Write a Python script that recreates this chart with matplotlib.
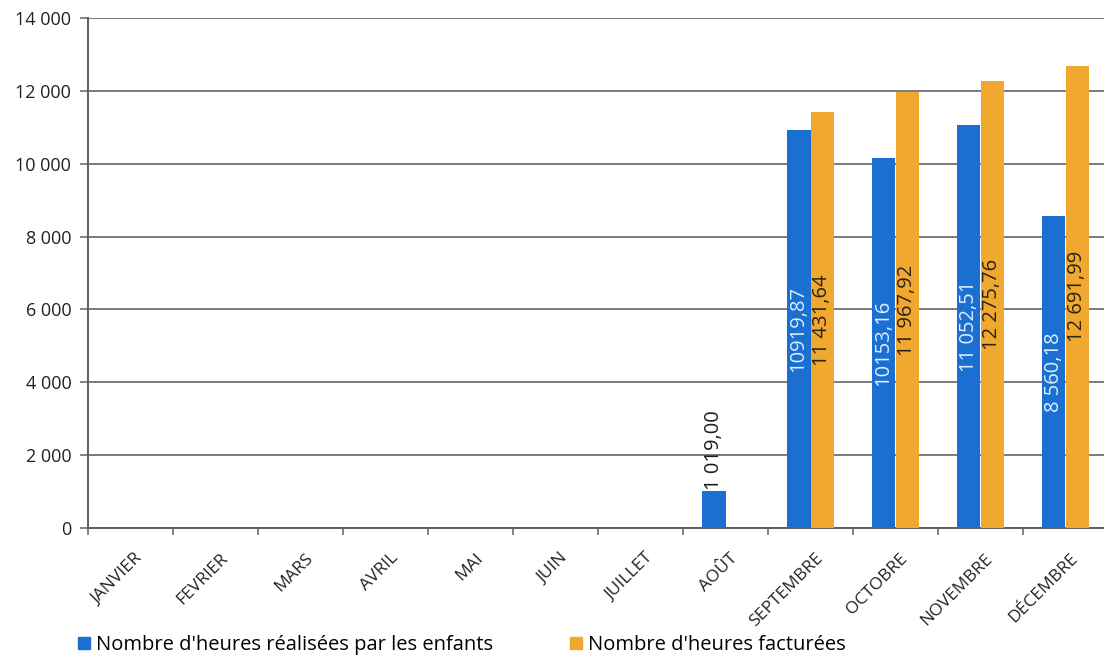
import matplotlib
matplotlib.use("Agg")
import matplotlib.pyplot as plt
import matplotlib.transforms as mtransforms
from matplotlib.patches import Patch
import numpy as np

plt.rcParams['font.family'] = ['Open Sans', 'DejaVu Sans']

months = ["JANVIER", "FEVRIER", "MARS", "AVRIL", "MAI", "JUIN",
          "JUILLET", "AOÛT", "SEPTEMBRE", "OCTOBRE", "NOVEMBRE", "DÉCEMBRE"]
heures_realisees = [0, 0, 0, 0, 0, 0, 0, 1019.00, 10919.87, 10153.16, 11052.51, 8560.18]
heures_facturees = [0, 0, 0, 0, 0, 0, 0, 0, 11431.64, 11967.92, 12275.76, 12691.99]
labels_realisees = ["", "", "", "", "", "", "", "1 019,00", "10919,87", "10153,16", "11 052,51", "8 560,18"]
labels_facturees = ["", "", "", "", "", "", "", "", "11 431,64", "11 967,92", "12 275,76", "12 691,99"]
y_ticks = [0, 2000, 4000, 6000, 8000, 10000, 12000, 14000]
y_tick_labels = ["0", "2 000", "4 000", "6 000", "8 000", "10 000", "12 000", "14 000"]
legend_labels = ["Nombre d'heures réalisées par les enfants", "Nombre d'heures facturées"]

blue = "#1a6fd0"
orange = "#f0a92e"
grid_col = "#6f6f6f"

fig = plt.figure(figsize=(11.04, 6.6), dpi=100)
ax = fig.add_axes([88 / 1104, 132 / 660, 1020 / 1104, 510 / 660])

x = np.arange(len(months))
w = 0.28
ax.bar(x - w / 2, heures_realisees, width=w, color=blue, zorder=3)
ax.bar(x + w / 2, heures_facturees, width=w, color=orange, zorder=3)

ax.set_xlim(-0.5, len(months) - 0.5)
ax.set_ylim(0, 14000)
ax.set_yticks(y_ticks)
ax.set_yticklabels(y_tick_labels, fontsize=13, color="#222222")
ax.yaxis.grid(True, color=grid_col, linewidth=1.3, zorder=0)
ax.set_axisbelow(True)

# category boundary ticks on the x axis
ax.set_xticks(np.arange(len(months) + 1) - 0.5)
ax.set_xticklabels([])
ax.tick_params(axis="x", length=5, color=grid_col, width=1.2)
ax.tick_params(axis="y", length=6, color=grid_col, width=1.2, pad=6)

for s in ["top", "right"]:
    ax.spines[s].set_visible(False)
for s in ["left", "bottom"]:
    ax.spines[s].set_color("#5e5e5e")
    ax.spines[s].set_linewidth(1.4)

# rotated month names
offset = mtransforms.ScaledTranslation(10 / 100, -28 / 100, fig.dpi_scale_trans)
for i, m in enumerate(months):
    ax.text(i, 0, m, rotation=45, ha="right", va="center", rotation_mode="anchor",
            fontsize=12.5, color="#222222",
            transform=ax.get_xaxis_transform() + offset, clip_on=False)

# value labels
for i, (v, lab) in enumerate(zip(heures_realisees, labels_realisees)):
    if not lab:
        continue
    if v < 3000:
        ax.text(i - w / 2, v + 20, lab, rotation=90, ha="center", va="bottom",
                fontsize=14.5, color="#1c1c1c", zorder=4)
    else:
        ax.text(i - w / 2, v / 2, lab, rotation=90, ha="center", va="center",
                fontsize=14.5, color="#dcefff", zorder=4)
for i, (v, lab) in enumerate(zip(heures_facturees, labels_facturees)):
    if not lab:
        continue
    ax.text(i + w / 2, v / 2, lab, rotation=90, ha="center", va="center",
            fontsize=14.5, color="#2a2218", zorder=4)

handles = [Patch(color=blue), Patch(color=orange)]
fig.legend(handles, legend_labels, loc="center left", bbox_to_anchor=(70 / 1104, 1 - 645 / 660),
           ncol=2, frameon=False, fontsize=14.5, handlelength=0.6, handleheight=0.6,
           handletextpad=0.3, columnspacing=3.8, borderaxespad=0)

fig.savefig("out.png", dpi=100)
